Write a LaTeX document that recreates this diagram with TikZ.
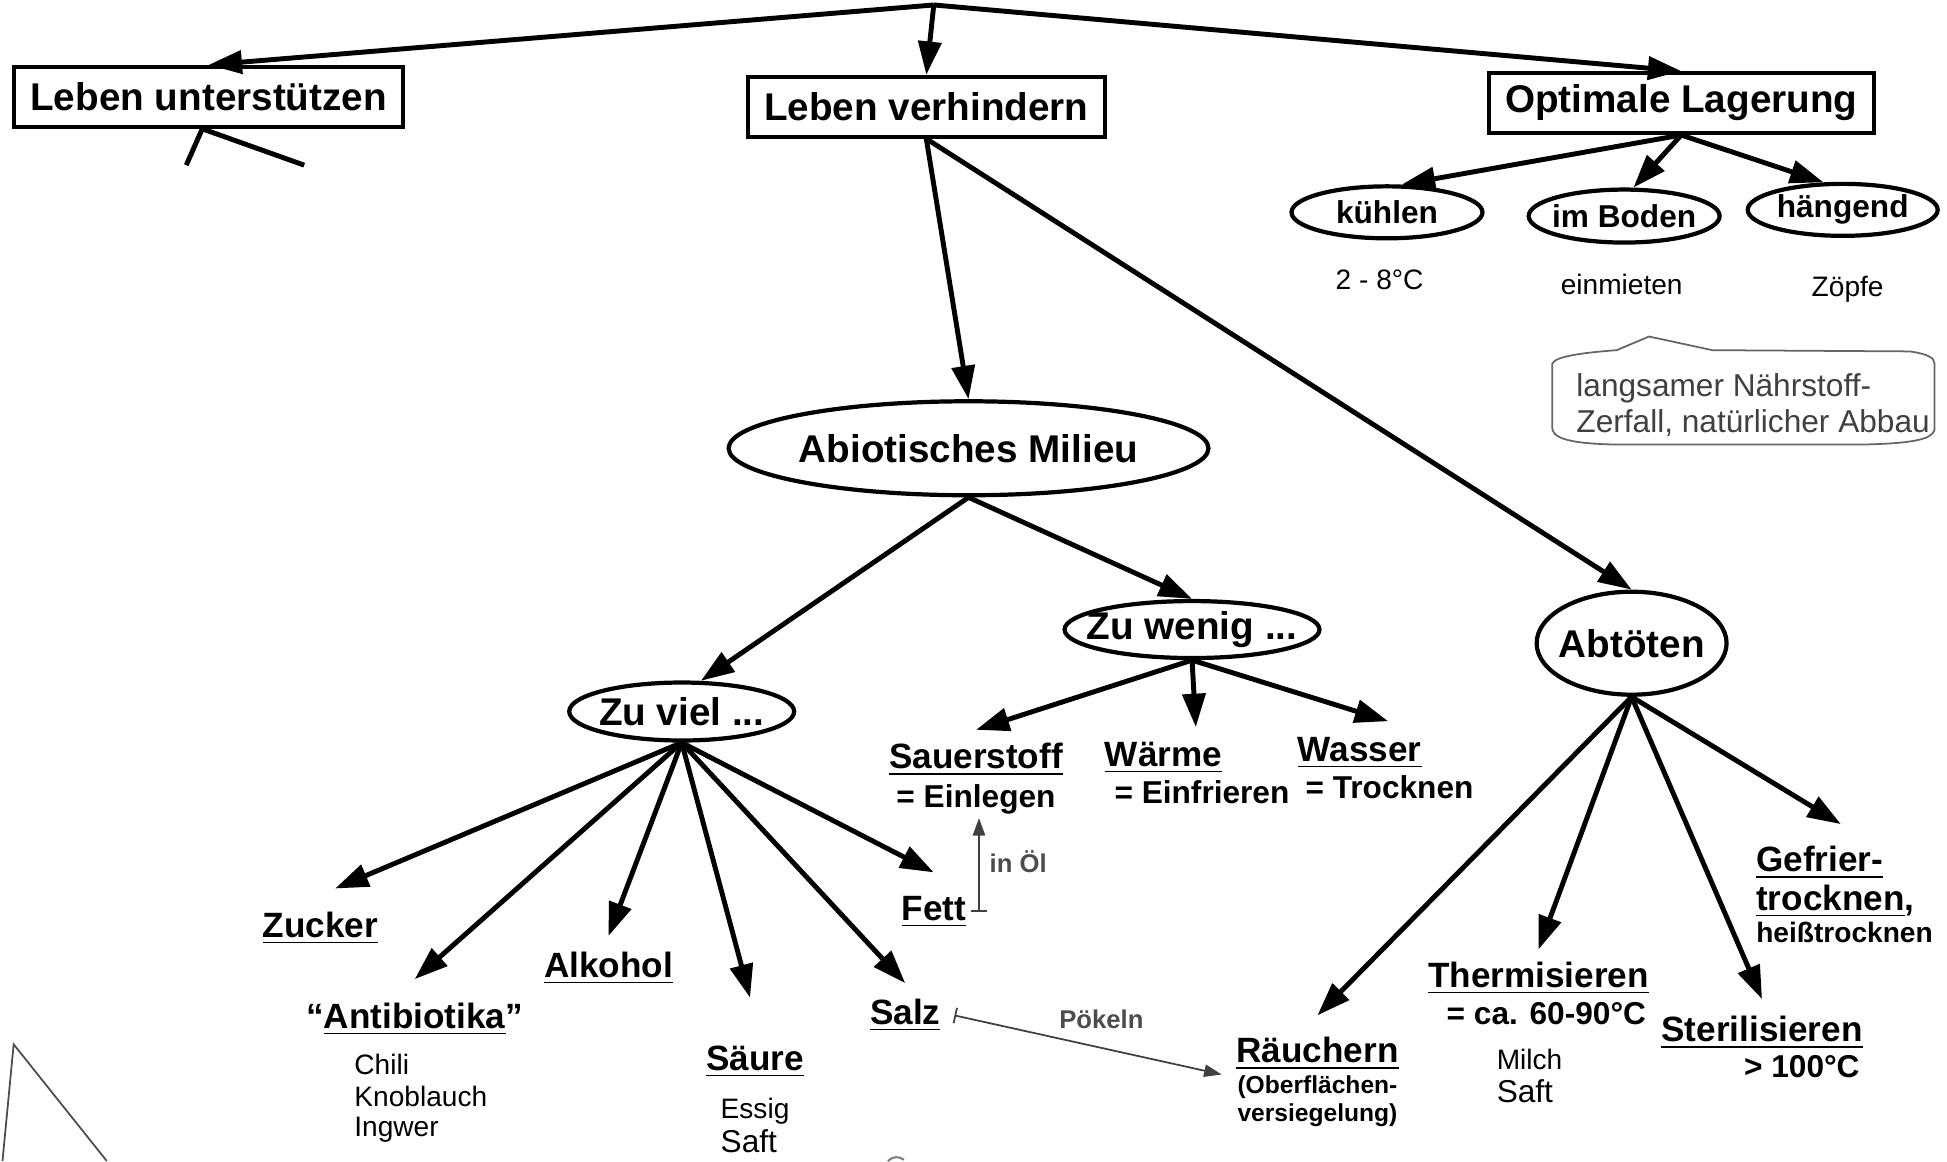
\documentclass[tikz,border=0pt]{standalone}
\usepackage{fontspec}
\setmainfont{Liberation Sans}
\usetikzlibrary{arrows.meta,shapes.geometric}

\tikzset{
  headbox/.style={draw, line width=1.2pt, minimum height=17pt, inner xsep=4.7pt,
    font=\bfseries\fontsize{11}{13}\selectfont},
  oval/.style={draw, ellipse, line width=1.2pt, inner sep=0pt,
    font=\bfseries\fontsize{11}{13}\selectfont},
  smalloval/.style={oval, font=\bfseries\fontsize{9}{11}\selectfont},
  lbl/.style={anchor=base, inner sep=1pt, font=\bfseries\fontsize{10}{12}\selectfont},
  eqlbl/.style={anchor=base, inner sep=1pt, font=\bfseries\fontsize{9}{11}\selectfont},
  tinylbl/.style={anchor=base, inner sep=1pt, font=\bfseries\fontsize{7}{8}\selectfont},
  exlbl/.style={anchor=base west, inner sep=1pt, font=\fontsize{8}{10}\selectfont},
  calltext/.style={anchor=base west, inner sep=0pt, text=black!75, font=\fontsize{9}{11}\selectfont},
  linklbl/.style={anchor=base, inner sep=1pt, text=black!70, font=\bfseries\fontsize{7.3}{9}\selectfont},
  arr/.style={line width=1.4pt, -{Triangle[length=9.5pt,width=6.5pt]}},
  linkarr/.style={line width=0.5pt, draw=black!75, {Bar[width=4.5pt]}-{Triangle[length=5pt,width=3.5pt]}},
}

\begin{document}
\begin{tikzpicture}[x=0.012417cm, y=-0.012417cm]
	\useasboundingbox (0,0) rectangle (1568,935);

	%%%%% TOP %%%%%
	\coordinate (root) at (752,4);
	\node[headbox] (lu) at (168,78) {Leben unterstützen};
	\node[headbox] (lv) at (746,86) {Leben verhindern};
	\node[headbox] (ol) at (1354,83) {Optimale Lagerung};
	\coordinate (cutl) at (150,133);
	\coordinate (cutr) at (245,133);

	\draw[arr] (root) -- (lu.north);
	\draw[arr] (root) -- (lv.north);
	\draw[arr] (root) -- (ol.north);
	\draw[line width=1.4pt] ([xshift=-1.8pt]lu.south) -- (cutl);
	\draw[line width=1.4pt] ([xshift=-1.8pt]lu.south) -- (cutr);

	%%%%% LAGERUNG %%%%%
	\node[smalloval, minimum width=1.91cm, minimum height=0.52cm] (kuehlen) at (1117,171) {kühlen};
	\node[smalloval, minimum width=1.91cm, minimum height=0.53cm, inner xsep=-2pt] (boden) at (1308,174) {im Boden};
	\node[smalloval, minimum width=1.90cm, minimum height=0.52cm] (haengend) at (1484,169) {hängend};
	\node[exlbl, anchor=base] (kuehltemp) at (1111,233) {2 - 8°C};
	\node[exlbl, anchor=base] (einmieten) at (1306,237) {einmieten};
	\node[exlbl, anchor=base] (zoepfe) at (1488,239) {Zöpfe};

	\draw[arr] (ol.south) -- (kuehlen.62);
	\draw[arr] (ol.south) -- (boden.72);
	\draw[arr] (ol.south) -- (haengend.125);

	\draw[black!60, line width=0.5pt] (1250,293) .. controls (1252,287) and (1275,284) .. (1302,282)
		-- (1328,271) -- (1379,282) -- (1538,283) .. controls (1552,285) and (1558,288) .. (1558,293)
		-- (1558,346) .. controls (1556,353) and (1545,357) .. (1500,358) -- (1300,358)
		.. controls (1260,357) and (1250,352) .. (1250,344) -- cycle;
	\node[calltext] (abbau1) at (1269,319) {langsamer Nährstoff-};
	\node[calltext] (abbau2) at (1269,348) {Zerfall, natürlicher Abbau};

	%%%%% MILIEU %%%%%
	\node[oval, minimum width=4.79cm, minimum height=0.94cm] (abio) at (780,361) {Abiotisches Milieu};
	\node[oval, minimum width=2.25cm, minimum height=0.58cm, inner xsep=-3pt] (zuviel) at (549,573) {Zu viel ...};
	\node[oval, minimum width=2.55cm, minimum height=0.57cm, inner xsep=-6pt] (zuwenig) at (960,507) {Zu wenig ...};
	\node[oval, minimum width=1.90cm, minimum height=1.03cm, inner xsep=-3pt] (abt) at (1314,518) {Abtöten};

	\draw[arr] (lv.south) -- (abio.north);
	\draw[arr] (lv.south) -- (abt.north);
	\draw[arr] (abio.south) -- (zuviel.58);
	\draw[arr] (abio.south) -- (zuwenig.north);

	% zu wenig
	\node[lbl] (sauerstoff) at (786,619) {\underline{Sauerstoff}};
	\node[eqlbl] (einlegen) at (786,650) {= Einlegen};
	\node[lbl] (waerme) at (937,617) {\underline{Wärme}};
	\node[eqlbl] (einfrieren) at (968,647) {= Einfrieren};
	\node[lbl] (wasser) at (1095,613) {\underline{Wasser}};
	\node[eqlbl] (trocknen) at (1119,643) {= Trocknen};

	\draw[arr] (zuwenig.south) -- ([yshift=2.6pt]sauerstoff.north);
	\draw[arr] (zuwenig.south) -- ([xshift=9.2pt, yshift=3pt]waerme.north);
	\draw[arr] (zuwenig.south) -- ([xshift=8.1pt, yshift=3.3pt]wasser.north);

	% zu viel
	\node[lbl] (zucker) at (258,755) {\underline{Zucker}};
	\node[lbl] (antibiotika) at (334,828) {“\underline{Antibiotika}”};
	\node[exlbl] (chili) at (282,865) {Chili};
	\node[exlbl] (knoblauch) at (282,891) {Knoblauch};
	\node[exlbl] (ingwer) at (282,915) {Ingwer};
	\node[lbl] (alkohol) at (490,787) {\underline{Alkohol}};
	\node[lbl] (saeure) at (608,862) {\underline{Säure}};
	\node[exlbl] (essig) at (577,901) {Essig};
	\node[exlbl, font=\fontsize{9}{11}\selectfont] (saft) at (577,928) {Saft};
	\node[lbl] (salz) at (729,825) {\underline{Salz}};
	\node[lbl] (fett) at (752,741) {\underline{Fett}};

	\draw[arr] (zuviel.south) -- ([xshift=4.2pt, yshift=5.5pt]zucker.north);
	\draw[arr] (zuviel.south) -- ([yshift=5.5pt]antibiotika.north);
	\draw[arr] (zuviel.south) -- ([yshift=3.3pt]alkohol.north);
	\draw[arr] (zuviel.south) -- ([xshift=-1.4pt, yshift=12.5pt]saeure.north);
	\draw[arr] (zuviel.south) -- ([yshift=3.3pt]salz.north);
	\draw[arr] (zuviel.south) -- ([yshift=5.5pt]fett.north);

	% abtoeten
	\node[lbl] (raeuchern) at (1061,856) {\underline{Räuchern}};
	\node[tinylbl] (oberfl) at (1061,881) {(Oberflächen-};
	\node[tinylbl] (versieg) at (1061,903) {versiegelung)};
	\node[lbl] (thermisieren) at (1239,795) {\underline{Thermisieren}};
	\node[eqlbl, anchor=base east] (thermtemp) at (1329,825) {= ca. 60-90°C};
	\node[exlbl] (milch) at (1202,861) {Milch};
	\node[exlbl, font=\fontsize{9}{11}\selectfont] (saft2) at (1202,888) {Saft};
	\node[lbl] (sterilisieren) at (1419,839) {\underline{Sterilisieren}};
	\node[eqlbl, anchor=base east] (steriltemp) at (1501,868) {> 100°C};
	\node[lbl, anchor=base west] (gefrier) at (1411,702) {\underline{Gefrier-}};
	\node[lbl, anchor=base west] (gefrier2) at (1411,733) {\underline{trocknen},};
	\node[lbl, anchor=base west, font=\bfseries\fontsize{8}{10}\selectfont] (heiss) at (1411,759) {heißtrocknen};

	\draw[arr] (abt.south) -- ([yshift=5.1pt]raeuchern.north);
	\draw[arr] (abt.south) -- ([yshift=2.3pt]thermisieren.north);
	\draw[arr] (abt.south) -- ([yshift=3.7pt]sterilisieren.north);
	\draw[arr] (abt.south) -- ([xshift=6pt, yshift=5.1pt]gefrier.north);

	%%%%% LINKS %%%%%
	\coordinate (oelfoot) at ([xshift=2.5pt]fett.east);
	\draw[linkarr] (oelfoot) -- (oelfoot |- einlegen.south);
	\node[linklbl] (inoel) at (820,703) {in Öl};
	\draw[linkarr] ([xshift=2.8pt]salz.east) -- ([xshift=-3pt]raeuchern.south west);
	\node[linklbl] (poekeln) at (887,828) {Pökeln};

	%%%%% CUT EDGES %%%%%
	\draw[black!70, line width=0.5pt] (2,935) -- (11,841) -- (86,935);
	\draw[black!50, line width=0.6pt] (715,935) .. controls (719,931) and (724,931) .. (728,934);
\end{tikzpicture}
\end{document}
